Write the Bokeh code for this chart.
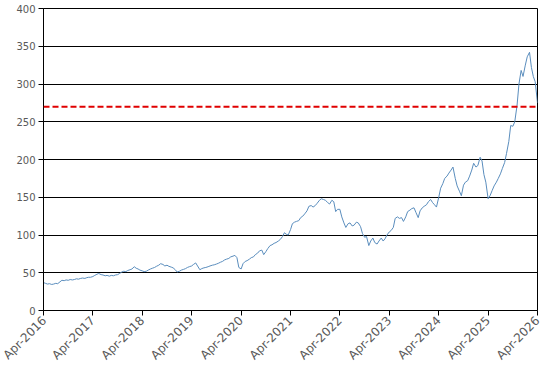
import pandas as pd
from math import pi
from bokeh.plotting import figure
from bokeh.models import FixedTicker, DatetimeTickFormatter, Span, Range1d, ColumnDataSource
from bokeh.embed import file_html
from bokeh.resources import INLINE

start_date = "2016-04-01"
end_date = "2026-04-01"
threshold = 270
y_ticks = [0, 50, 100, 150, 200, 250, 300, 350, 400]
tick_years = list(range(2016, 2027))

# semi-monthly readings (1st and 15th of each month), Apr-2016 .. Apr-2026
values = [
    37, 36, 35, 35.5, 34.5, 35, 36, 35.5, 38, 40, 39.5, 40.5, 40, 41, 40.5, 41, 42, 41.5, 42.5, 43, 42.5, 43.5, 44, 44,
    45, 46.5, 48, 49, 47.5, 47, 46, 46.5, 45.5, 46.5, 46, 47, 47.5, 49, 51, 52, 51.5, 53, 54, 55, 58, 56, 55, 53.5,
    52.5, 51.5, 52, 53.5, 55, 56, 57, 58.5, 60, 62, 61, 59, 60, 58.5, 57.5, 56.5, 54, 51, 52, 53.5, 54.5, 55.5, 57, 58,
    59, 61, 63, 59, 54, 55.5, 56.5, 57, 58, 59, 60, 60.5, 61.5, 62.5, 64, 65, 67, 68, 69, 71, 72, 73, 70, 57,
    55, 62, 65, 66, 68, 70, 71, 74, 76, 79, 80, 74, 78, 82, 86, 87, 89, 90, 92, 94, 98, 103, 101, 100,
    107, 115, 117, 118, 119, 123, 125, 128, 132, 138, 139, 137, 139, 142, 146, 148, 147, 146, 143, 141, 146, 144, 131, 134,
    134, 124, 116, 110, 115, 116, 112, 113, 117, 116, 111, 102, 97, 98, 86, 92, 96, 90, 88, 92, 96, 92, 95, 100,
    104, 106, 110, 122, 124, 122, 123, 118, 124, 131, 133, 135, 136, 130, 123, 132, 136, 138, 140, 144, 147, 143, 140, 137,
    150, 162, 168, 175, 178, 182, 186, 190, 175, 165, 158, 152, 166, 170, 172, 178, 186, 195, 190, 192, 203, 198, 180, 170,
    148, 152, 159, 165, 170, 175, 181, 188, 196, 208, 224, 245, 244, 250, 272, 300, 318, 310, 325, 336, 342, 322, 310, 303,
    275,
]

dates = pd.date_range(start_date, end_date, freq="SMS")
src = ColumnDataSource(data=dict(date=dates[:len(values)], value=values))

p = figure(width=550, height=370, x_axis_type="datetime", output_backend="svg",
           toolbar_location=None, tools="",
           x_range=Range1d(pd.Timestamp(start_date), pd.Timestamp(end_date)),
           y_range=Range1d(0, 400),
           min_border_left=43, min_border_right=13, min_border_top=8, min_border_bottom=59)

p.line("date", "value", source=src, line_color="#5a8dbd", line_width=1)

p.add_layout(Span(location=threshold, dimension="width", line_color="#e00000",
                  line_width=2, line_dash="6 3"))

p.outline_line_color = "black"
p.outline_line_width = 1
p.background_fill_color = "white"
p.border_fill_color = "white"

p.xgrid.grid_line_color = None
p.ygrid.grid_line_color = "black"
p.ygrid.grid_line_width = 1
p.ygrid.ticker = FixedTicker(ticks=y_ticks)

xt = [pd.Timestamp(f"{y}-04-01").value / 1e6 for y in tick_years]
p.xaxis.ticker = FixedTicker(ticks=xt)
fmt = "%b-%Y"
p.xaxis.formatter = DatetimeTickFormatter(years=fmt, months=fmt, days=fmt, hours=fmt,
                                          hourmin=fmt, minutes=fmt, minsec=fmt,
                                          seconds=fmt, milliseconds=fmt, microseconds=fmt)
p.xaxis.major_label_orientation = pi / 4
p.yaxis.ticker = FixedTicker(ticks=y_ticks)

for ax in (p.xaxis[0], p.yaxis[0]):
    ax.axis_line_color = "black"
    ax.axis_line_width = 1
    ax.major_tick_line_color = "black"
    ax.major_tick_out = 5
    ax.major_tick_in = 0
    ax.minor_tick_line_color = None
    ax.major_label_text_font = "DejaVu Sans"
    ax.major_label_text_color = "#595959"
    ax.major_label_standoff = 3

p.xaxis[0].major_label_text_font_size = "12px"
p.yaxis[0].major_label_text_font_size = "10px"

open("out.html", "w").write(file_html(p, INLINE))
